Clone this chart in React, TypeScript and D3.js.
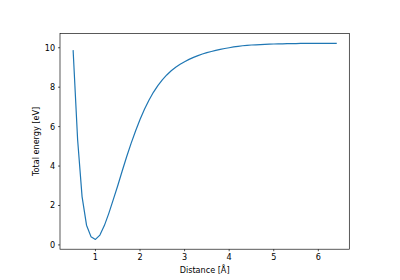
import React from "react";
import * as d3 from "d3";

const distances: number[] = [
  0.5, 0.6, 0.7, 0.8, 0.9, 1.0, 1.1, 1.2, 1.3, 1.4, 1.5, 1.6, 1.7, 1.8, 1.9,
  2.0, 2.1, 2.2, 2.3, 2.4, 2.5, 2.6, 2.7, 2.8, 2.9, 3.0, 3.1, 3.2, 3.3, 3.4,
  3.5, 3.6, 3.7, 3.8, 3.9, 4.0, 4.1, 4.2, 4.3, 4.4, 4.5, 4.6, 4.7, 4.8, 4.9,
  5.0, 5.1, 5.2, 5.3, 5.4, 5.5, 5.6, 5.7, 5.8, 5.9, 6.0, 6.1, 6.2, 6.3, 6.4,
];
const energies: number[] = [
  9.85, 5.35, 2.45, 1.0, 0.42, 0.28, 0.5, 0.98, 1.6, 2.3, 3.0, 3.75, 4.47, 5.15, 5.78,
  6.36, 6.88, 7.34, 7.74, 8.08, 8.37, 8.62, 8.83, 9.01, 9.16, 9.29, 9.41, 9.51, 9.6, 9.68,
  9.75, 9.81, 9.87, 9.92, 9.96, 10.0, 10.04, 10.07, 10.1, 10.12, 10.14, 10.15, 10.16, 10.17, 10.18,
  10.19, 10.2, 10.2, 10.21, 10.21, 10.21, 10.22, 10.22, 10.22, 10.22, 10.22, 10.22, 10.22, 10.22, 10.22,
];
const xTicks: number[] = [1, 2, 3, 4, 5, 6];
const yTicks: number[] = [0, 2, 4, 6, 8, 10];
const xLabel = "Distance [Å]";
const yLabel = "Total energy [eV]";

export default function App() {
  const W = 400, H = 280;
  const left = 60, right = 349.3, top = 33.6, bottom = 249.2;
  const font = "DejaVu Sans, sans-serif";
  const fs = 8.1;
  const tickLen = 2.04;
  const pad = 2.85;

  const xMin = d3.min(distances)!, xMax = d3.max(distances)!;
  const yMin = d3.min(energies)!, yMax = d3.max(energies)!;
  const xm = (xMax - xMin) * 0.05, ym = (yMax - yMin) * 0.05;
  const x = d3.scaleLinear().domain([xMin - xm, xMax + xm]).range([left, right]);
  const y = d3.scaleLinear().domain([yMin - ym, yMax + ym]).range([bottom, top]);

  const pts: [number, number][] = distances.map((d, i) => [d, energies[i]]);
  const line = d3.line<[number, number]>().x((d) => x(d[0])).y((d) => y(d[1]));

  return (
    <svg
      width={W}
      height={H}
      style={{ position: "absolute", left: 0, top: 0, background: "#fff" }}
      fontFamily={font}
    >
      <rect x={0} y={0} width={W} height={H} fill="#fff" />
      <path d={line(pts) || ""} fill="none" stroke="#1f77b4" strokeWidth={1.2} strokeLinejoin="round" strokeLinecap="square" />
      <rect x={left} y={top} width={right - left} height={bottom - top} fill="none" stroke="#000" strokeWidth={0.65} />
      {xTicks.map((t) => (
        <g key={"x" + t}>
          <line x1={x(t)} x2={x(t)} y1={bottom} y2={bottom + tickLen} stroke="#000" strokeWidth={0.65} />
          <text x={x(t)} y={bottom + tickLen + pad} dy="0.76em" textAnchor="middle" fontSize={fs} fill="#000">
            {t}
          </text>
        </g>
      ))}
      {yTicks.map((t) => (
        <g key={"y" + t}>
          <line x1={left - tickLen} x2={left} y1={y(t)} y2={y(t)} stroke="#000" strokeWidth={0.65} />
          <text x={left - tickLen - pad} y={y(t)} dy="0.36em" textAnchor="end" fontSize={fs} fill="#000">
            {t}
          </text>
        </g>
      ))}
      <text x={(left + right) / 2} y={273} textAnchor="middle" fontSize={fs} fill="#000">
        {xLabel}
      </text>
      <text
        transform={`translate(${38.5}, ${(top + bottom) / 2}) rotate(-90)`}
        textAnchor="middle"
        fontSize={fs}
        fill="#000"
      >
        {yLabel}
      </text>
    </svg>
  );
}
